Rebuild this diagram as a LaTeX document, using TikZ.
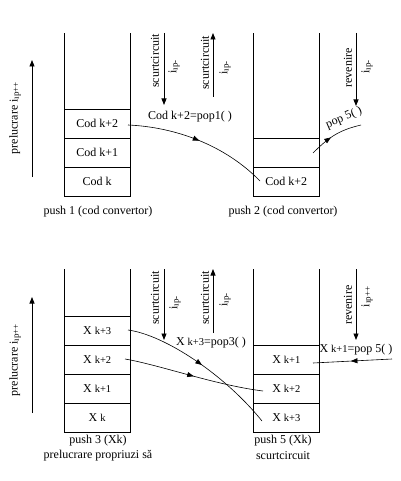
\documentclass[tikz,border=0pt]{standalone}
\usepackage{fontspec}
\setmainfont{Liberation Serif}
\usetikzlibrary{arrows.meta,decorations.markings}
\begin{document}
\begin{tikzpicture}[x=1pt,y=-1pt,
  txt/.style={font=\fontsize{12}{14}\selectfont, inner sep=0pt},
  cell/.style={txt, draw, line width=0.8pt, minimum width=65.7pt, minimum height=28.9pt},
  vtxt/.style={txt, rotate=90},
  wall/.style={line width=0.8pt},
  arr/.style={line width=0.8pt, -{Triangle[length=6.5pt,width=5pt]}},
  flow/.style={line width=0.6pt, postaction={decorate},
    decoration={markings, mark=at position #1 with {\arrow{Triangle[length=6.5pt,width=5pt]}}}}
]
\useasboundingbox (0,0) rectangle (400,481);
\newcommand{\sm}[1]{{\fontsize{10.5}{12}\selectfont #1}}
\newcommand{\ip}[1]{i\raisebox{-1.2pt}{\fontsize{9}{10}\selectfont ı#1}}

% ---------- top-left stack ----------
\node[cell] (a3) at (97.2,123.5) {Cod k+2};
\node[cell] (a2) at (97.2,152.5) {Cod k+1};
\node[cell] (a1) at (97.2,181.5) {Cod k};
\coordinate (ttop) at (0,33);
\draw[wall] (a3.north west) -- (a3.north west |- ttop);
\draw[wall] (a3.north east) -- (a3.north east |- ttop);
\node[txt] (l1) at (98,212) {push 1 (cod convertor)};

% ---------- top-right stack ----------
\node[cell] (b2) at (286.3,152.5) {};
\node[cell] (b1) at (286.3,181.5) {Cod k+2};
\draw[wall] (b2.north west) -- (b2.north west |- ttop);
\draw[wall] (b2.north east) -- (b2.north east |- ttop);
\node[txt] (l2) at (283,212) {push 2 (cod convertor)};

% ---------- top arrows ----------
\coordinate (p1s) at (32,177); \coordinate (p1e) at (32,60);
\draw[arr] (p1s) -- (p1e);
\node[vtxt] (p1t) at (15,118) {prelucrare \ip{p++}};

\coordinate (s1s) at (164,33); \coordinate (s1e) at (164,105);
\draw[arr] (s1s) -- (s1e);
\node[vtxt] (s1t) at (155,61) {scurtcircuit};
\node[vtxt] (s1i) at (174,67) {\ip{p-}};

\coordinate (s2s) at (213,97); \coordinate (s2e) at (213,33);
\draw[arr] (s2s) -- (s2e);
\node[vtxt] (s2t) at (205,63) {scurtcircuit};
\node[vtxt] (s2i) at (225,68) {\ip{p-}};

\node[txt] (pop1) at (190,117) {Cod k+2=pop1( )};

\coordinate (r1s) at (356,33); \coordinate (r1e) at (356,106);
\draw[arr] (r1s) -- (r1e);
\node[vtxt] (r1t) at (348,68) {revenire};
\node[vtxt] (r1i) at (367,67) {\ip{p-}};

\node[txt, rotate=23] (pop5a) at (344,118) {pop 5( )};

\coordinate (fa) at (128,125);
\coordinate (fb) at (260,181);
\draw[flow=0.5] (fa) .. controls (175,127) and (225,145) .. (fb);
\coordinate (ga) at (313,153);
\coordinate (gb) at (361,125);
\draw[flow=0.42] (ga) .. controls (330,136) and (340,130) .. (gb);

% ---------- bottom-left stack ----------
\node[cell] (c4) at (97.2,331) {X \sm{k+3}};
\node[cell] (c3) at (97.2,359.8) {X \sm{k+2}};
\node[cell] (c2) at (97.2,388.7) {X \sm{k+1}};
\node[cell] (c1) at (97.2,417.6) {X \sm{k}};
\coordinate (btop) at (0,269);
\draw[wall] (c4.north west) -- (c4.north west |- btop);
\draw[wall] (c4.north east) -- (c4.north east |- btop);
\node[txt] (l3a) at (98,441) {push 3 (Xk)};
\node[txt] (l3b) at (98,456) {prelucrare propriuzi să};

% ---------- bottom-right stack ----------
\node[cell] (d3) at (286.3,359.8) {X \sm{k+1}};
\node[cell] (d2) at (286.3,388.7) {X \sm{k+2}};
\node[cell] (d1) at (286.3,417.6) {X \sm{k+3}};
\draw[wall] (d3.north west) -- (d3.north west |- btop);
\draw[wall] (d3.north east) -- (d3.north east |- btop);
\node[txt] (l5a) at (283,441) {push 5 (Xk)};
\node[txt] (l5b) at (283,456) {scurtcircuit};

% ---------- bottom arrows ----------
\coordinate (p2s) at (32,413); \coordinate (p2e) at (32,297);
\draw[arr] (p2s) -- (p2e);
\node[vtxt] (p2t) at (15,360) {prelucrare \ip{p++}};

\coordinate (s3s) at (164,269); \coordinate (s3e) at (164,340);
\draw[arr] (s3s) -- (s3e);
\node[vtxt] (s3t) at (155,298) {scurtcircuit};
\node[vtxt] (s3i) at (175,303) {\ip{p-}};

\coordinate (s4s) at (213,333); \coordinate (s4e) at (213,269);
\draw[arr] (s4s) -- (s4e);
\node[vtxt] (s4t) at (205,298) {scurtcircuit};
\node[vtxt] (s4i) at (225,300) {\ip{p-}};

\node[txt] (pop3) at (211,343) {X \sm{k+3}=pop3( )};

\coordinate (r2s) at (356,269); \coordinate (r2e) at (356,340);
\draw[arr] (r2s) -- (r2e);
\node[vtxt] (r2t) at (348,305) {revenire};
\node[vtxt] (r2i) at (367,297) {\ip{p++}};

\node[txt] (pop5b) at (356,350) {X \sm{k+1}=pop 5( )};

\coordinate (ha) at (128,330);
\coordinate (hb) at (262,421);
\draw[flow=0.5] (ha) .. controls (165,335) and (225,375) .. (hb);
\coordinate (ia) at (125,359);
\coordinate (ib) at (263,391);
\draw[flow=0.5] (ia) .. controls (160,365) and (215,385) .. (ib);
\coordinate (ja) at (392,359);
\coordinate (jb) at (313,363);
\draw[flow=0.52] (ja) -- (jb);
\end{tikzpicture}
\end{document}
